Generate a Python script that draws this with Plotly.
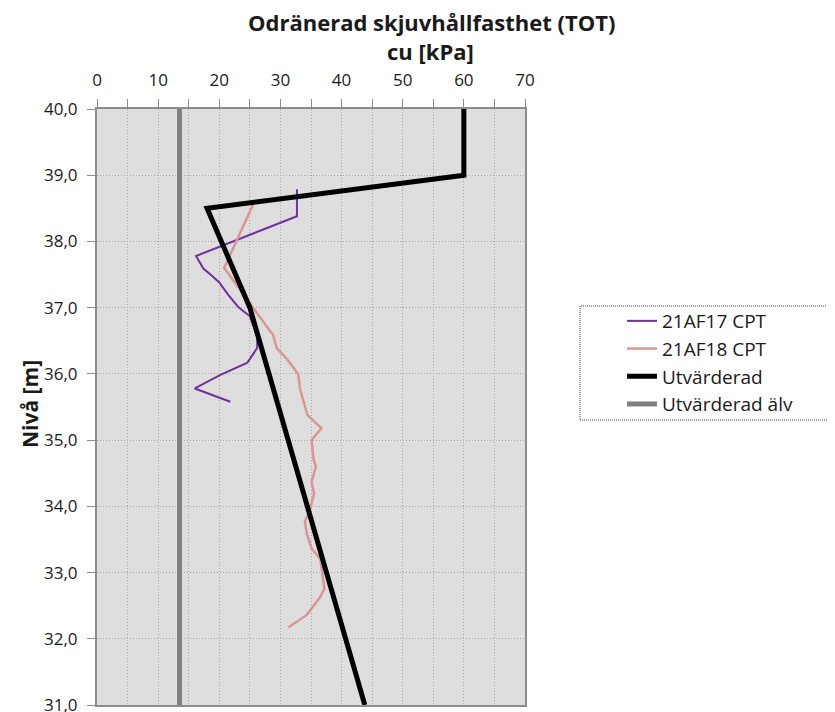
"""Odränerad skjuvhållfasthet (TOT) - cu mot nivå."""

import plotly.graph_objects as go

# 21AF17 CPT
cpt17_cu = [32.7, 32.7, 16.2, 17.4, 18.7, 20.0, 21.5, 23.1, 25.0, 26.2, 26.2, 24.6, 20.1, 16.0, 21.8]
cpt17_niva = [38.79, 38.38, 37.78, 37.59, 37.49, 37.38, 37.19, 37.01, 36.87, 36.56, 36.39, 36.17, 35.98, 35.78, 35.58]

# 21AF18 CPT
cpt18_cu = [25.5, 20.8, 28.2, 28.8, 29.4, 31.0, 32.9, 33.2, 34.4, 36.7, 35.1, 35.4, 35.8, 35.1,
            35.5, 34.8, 34.0, 34.3, 35.1, 36.5, 37.2, 36.5, 34.3, 31.3]
cpt18_niva = [38.55, 37.6, 36.66, 36.59, 36.39, 36.23, 36.0, 35.78, 35.38, 35.18, 35.0, 34.72, 34.6, 34.37,
              34.19, 33.94, 33.77, 33.59, 33.36, 33.21, 32.76, 32.63, 32.36, 32.17]

# Utvärderad
utv_cu = [60.0, 60.0, 18.0, 25.0, 43.8]
utv_niva = [40.0, 39.0, 38.5, 37.0, 31.0]

# Utvärderad älv
alv_cu = [13.5, 13.5]
alv_niva = [40.0, 31.0]

FONT = "Open Sans, sans-serif"
TXT = "#1a1a1a"
GRID = "#A6A6A6"
AXIS = "#8C8C8C"

# page body adds an 8px margin; work in window pixels and shift back
OFF = 8
FIG_W, FIG_H = 835, 712
L, T = 97 - OFF, 109 - OFF
R, B = FIG_W - (525 - OFF), FIG_H - (705 - OFF)
W, H = FIG_W - L - R, FIG_H - T - B


def px_x(x):
    return (x - OFF - L) / W


def px_y(y):
    return (FIG_H - B - (y - OFF)) / H


fig = go.Figure()
fig.add_trace(go.Scatter(x=cpt17_cu, y=cpt17_niva, mode="lines", name="21AF17 CPT",
                         line=dict(color="#7030A0", width=2)))
fig.add_trace(go.Scatter(x=cpt18_cu, y=cpt18_niva, mode="lines", name="21AF18 CPT",
                         line=dict(color="#D99694", width=2.5)))
fig.add_trace(go.Scatter(x=utv_cu, y=utv_niva, mode="lines", name="Utvärderad",
                         line=dict(color="black", width=5)))
fig.add_trace(go.Scatter(x=alv_cu, y=alv_niva, mode="lines", name="Utvärderad älv",
                         line=dict(color="#808080", width=5)))

fig.update_layout(
    width=FIG_W, height=FIG_H,
    margin=dict(l=L, r=R, t=T, b=B, autoexpand=False),
    paper_bgcolor="white",
    plot_bgcolor="#DEDEDE",
    font=dict(family=FONT, size=16, color=TXT),
    separators=", ",
    showlegend=True,
    legend=dict(x=px_x(622), y=px_y(302), xanchor="left", yanchor="top",
                font=dict(size=19, color=TXT), bgcolor="rgba(0,0,0,0)",
                tracegroupgap=0),
    annotations=[
        dict(text="<b>Odränerad skjuvhållfasthet (TOT)</b>", x=px_x(431), y=px_y(22),
             xref="paper", yref="paper", xanchor="center", yanchor="middle",
             showarrow=False, font=dict(size=22, color=TXT)),
        dict(text="<b>cu [kPa]</b>", x=px_x(430), y=px_y(51),
             xref="paper", yref="paper", xanchor="center", yanchor="middle",
             showarrow=False, font=dict(size=22, color=TXT)),
        dict(text="<b>Nivå [m]</b>", x=px_x(30), y=px_y(404), textangle=-90,
             xref="paper", yref="paper", xanchor="center", yanchor="middle",
             showarrow=False, font=dict(size=21, color=TXT)),
    ],
)

fig.add_shape(type="rect", xref="paper", yref="paper",
              x0=px_x(580), x1=px_x(833), y0=px_y(420), y1=px_y(306),
              line=dict(color="#404040", width=1, dash="1px,1px"))

fig.update_xaxes(
    side="top", range=[0, 70], dtick=10, tick0=0, automargin=False,
    showline=True, linecolor=AXIS, linewidth=2, mirror=True,
    ticks="outside", ticklen=8, tickcolor=AXIS, tickwidth=1, ticklabelstandoff=6,
    showgrid=True, gridcolor=GRID, griddash="1px,2px", gridwidth=1,
    minor=dict(dtick=5, showgrid=True, gridcolor=GRID, griddash="1px,2px",
               ticks="outside", ticklen=8, tickcolor=AXIS),
    zeroline=False, tickfont=dict(size=17, color=TXT),
)
fig.update_yaxes(
    range=[31, 40], dtick=1, tickformat=".1f", automargin=False,
    showline=True, linecolor=AXIS, linewidth=2, mirror=True,
    ticks="outside", ticklen=8, tickcolor=AXIS, ticklabelstandoff=6,
    showgrid=True, gridcolor=GRID, griddash="1px,2px", gridwidth=1,
    zeroline=False, tickfont=dict(size=17, color=TXT),
)

fig.write_html("out.html")
